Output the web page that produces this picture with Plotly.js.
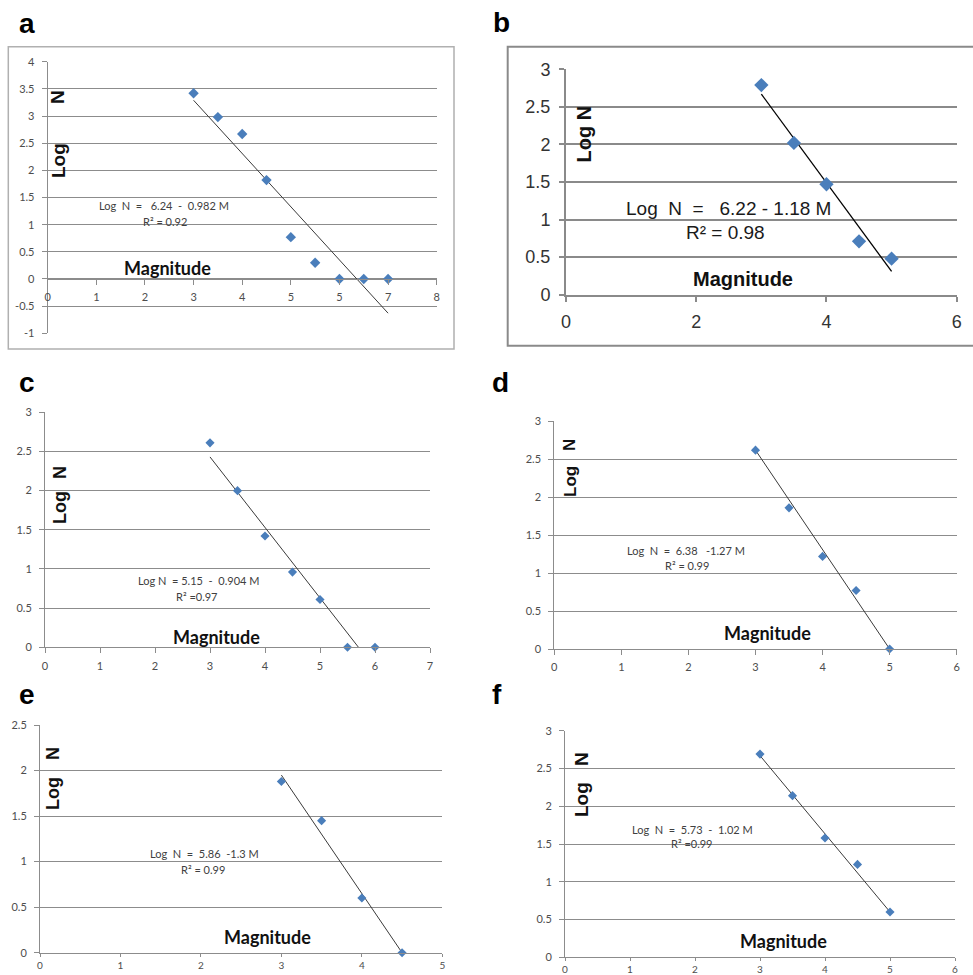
<!DOCTYPE html>
<html><head><meta charset="utf-8">
<script src="https://cdn.plot.ly/plotly-3.0.1.min.js"></script>
<style>html,body{margin:0;padding:0;background:#fff}</style>
</head><body><div id="chart" style="width:973px;height:975px"></div>
<script>
// ---------- data ----------
const magA = [3, 3.5, 4, 4.5, 5, 5.5, 6, 6.5, 7];
const logNA = [3.42, 2.98, 2.67, 1.82, 0.77, 0.30, 0, 0, 0];
const fitXA = [3, 7];
const fitYA = [3.29, -0.63];
const xTickValsA = [0, 1, 2, 3, 4, 5, 6, 7, 8];
const xTickTextA = ['0', '1', '2', '3', '4', '5', '5', '7', '8'];
const yTickValsA = [-1, -0.5, 0, 0.5, 1, 1.5, 2, 2.5, 3, 3.5, 4];
const yTickTextA = ['-1', '-0.5', '0', '0.5', '1', '1.5', '2', '2.5', '3', '3.5', '4'];
const eqA = 'Log  N  =   6.24  -  0.982 M';
const r2A = 'R² = 0.92';

const magB = [3, 3.5, 4, 4.5, 5];
const logNB = [2.79, 2.02, 1.47, 0.71, 0.48];
const fitXB = [3, 5];
const fitYB = [2.67, 0.31];
const xTickValsB = [0, 2, 4, 6];
const xTickTextB = ['0', '2', '4', '6'];
const yTickValsB = [0, 0.5, 1, 1.5, 2, 2.5, 3];
const yTickTextB = ['0', '0.5', '1', '1.5', '2', '2.5', '3'];
const eqB = 'Log  N  =   6.22 - 1.18 M';
const r2B = 'R² = 0.98';

const magC = [3, 3.5, 4, 4.5, 5, 5.5, 6];
const logNC = [2.61, 2.00, 1.42, 0.96, 0.61, 0, 0];
const fitXC = [3, 5.70];
const fitYC = [2.43, 0];
const xTickValsC = [0, 1, 2, 3, 4, 5, 6, 7];
const xTickTextC = ['0', '1', '2', '3', '4', '5', '6', '7'];
const yTickValsC = [0, 0.5, 1, 1.5, 2, 2.5, 3];
const yTickTextC = ['0', '0.5', '1', '1.5', '2', '2.5', '3'];
const eqC = 'Log N  = 5.15  -  0.904 M';
const r2C = 'R² =0.97';

const magD = [3, 3.5, 4, 4.5, 5];
const logND = [2.62, 1.86, 1.22, 0.77, 0];
const fitXD = [3, 5];
const fitYD = [2.62, 0];
const xTickValsD = [0, 1, 2, 3, 4, 5, 6];
const xTickTextD = ['0', '1', '2', '3', '4', '5', '6'];
const yTickValsD = [0, 0.5, 1, 1.5, 2, 2.5, 3];
const yTickTextD = ['0', '0.5', '1', '1.5', '2', '2.5', '3'];
const eqD = 'Log  N  =  6.38   -1.27 M';
const r2D = 'R² = 0.99';

const magE = [3, 3.5, 4, 4.5];
const logNE = [1.88, 1.45, 0.60, 0];
const fitXE = [3, 4.5];
const fitYE = [1.95, 0];
const xTickValsE = [0, 1, 2, 3, 4, 5];
const xTickTextE = ['0', '1', '2', '3', '4', '5'];
const yTickValsE = [0, 0.5, 1, 1.5, 2, 2.5];
const yTickTextE = ['0', '0.5', '1', '1.5', '2', '2.5'];
const eqE = 'Log  N  =  5.86  -1.3 M';
const r2E = 'R² = 0.99';

const magF = [3, 3.5, 4, 4.5, 5];
const logNF = [2.69, 2.14, 1.58, 1.23, 0.60];
const fitXF = [3, 5];
const fitYF = [2.67, 0.60];
const xTickValsF = [0, 1, 2, 3, 4, 5, 6];
const xTickTextF = ['0', '1', '2', '3', '4', '5', '6'];
const yTickValsF = [0, 0.5, 1, 1.5, 2, 2.5, 3];
const yTickTextF = ['0', '0.5', '1', '1.5', '2', '2.5', '3'];
const eqF = 'Log  N  =  5.73  -  1.02 M';
const r2F = 'R² =0.99';

const panelLetters = ['a', 'b', 'c', 'd', 'e', 'f'];
const xTitle = 'Magnitude';
const yTitleWords = ['Log', 'N'];

// ---------- layout helpers ----------
const W = 973, H = 975;
const px = x => x / W;
const py = y => 1 - y / H;
const nb = s => s.replace(/ /g, '\u00A0');

const BLUE = '#4a7ebb';
const GRID = '#8c8c8c';
const calTick = {family: 'Lato, Carlito, sans-serif', size: 11, color: '#4d4d4d'};
const arialTick = {family: 'Liberation Sans, Arial, sans-serif', size: 18, color: '#333333'};

const panels = [
  {mag: magA, logN: logNA, fx: fitXA, fy: fitYA, xv: xTickValsA, xt: xTickTextA, yv: yTickValsA, yt: yTickTextA,
   box: {l: 47.7, r: 436.7, t: 61.7, b: 333.3}, xr: [0, 8], yr: [-1, 4], ms: 8, style: 'xl', xAtZero: true,
   eq: eqA, r2: r2A, eqPos: [164, 205], r2Pos: [165, 222], magPos: [167, 268], logPos: [58, 161], nPos: [58, 97], labPos: [27, 24], ytFont: 19},
  {mag: magB, logN: logNB, fx: fitXB, fy: fitYB, xv: xTickValsB, xt: xTickTextB, yv: yTickValsB, yt: yTickTextB,
   box: {l: 566, r: 956.7, t: 69.3, b: 294.7}, xr: [0, 6], yr: [0, 3], ms: 11, style: 'mac',
   eq: eqB, r2: r2B, eqPos: [728, 209], r2Pos: [725, 233], magPos: [743, 279], logNPos: [583, 134.5], labPos: [501, 22]},
  {mag: magC, logN: logNC, fx: fitXC, fy: fitYC, xv: xTickValsC, xt: xTickTextC, yv: yTickValsC, yt: yTickTextC,
   box: {l: 45, r: 430, t: 412.3, b: 647.3}, xr: [0, 7], yr: [0, 3], ms: 7, style: 'xl',
   eq: eqC, r2: r2C, eqPos: [198, 580], r2Pos: [197, 596], magPos: [216, 637], logPos: [60, 508], nPos: [60, 473], labPos: [27, 382], ytFont: 18},
  {mag: magD, logN: logND, fx: fitXD, fy: fitYD, xv: xTickValsD, xt: xTickTextD, yv: yTickValsD, yt: yTickTextD,
   box: {l: 554.3, r: 956.7, t: 421.3, b: 649}, xr: [0, 6], yr: [0, 3], ms: 7, style: 'xl',
   eq: eqD, r2: r2D, eqPos: [686, 550], r2Pos: [687, 565], magPos: [767, 633], logPos: [570, 482], nPos: [570, 445], labPos: [500, 382], ytFont: 17},
  {mag: magE, logN: logNE, fx: fitXE, fy: fitYE, xv: xTickValsE, xt: xTickTextE, yv: yTickValsE, yt: yTickTextE,
   box: {l: 40, r: 442.3, t: 725, b: 952.7}, xr: [0, 5], yr: [0, 2.5], ms: 7, style: 'xl', tight: true,
   eq: eqE, r2: r2E, eqPos: [204, 853], r2Pos: [203, 869], magPos: [267, 937], logPos: [53, 794], nPos: [53, 754], labPos: [27, 694], ytFont: 18},
  {mag: magF, logN: logNF, fx: fitXF, fy: fitYF, xv: xTickValsF, xt: xTickTextF, yv: yTickValsF, yt: yTickTextF,
   box: {l: 565, r: 955, t: 730.7, b: 957.3}, xr: [0, 6], yr: [0, 3], ms: 7, style: 'xl', tight: true,
   eq: eqF, r2: r2F, eqPos: [692, 829], r2Pos: [692, 843], magPos: [783, 941], logPos: [581, 800], nPos: [581, 759], labPos: [497, 694], ytFont: 19}
];

const data = [];
const layout = {
  width: W, height: H, margin: {l: 0, r: 0, t: 0, b: 0},
  paper_bgcolor: '#ffffff', plot_bgcolor: 'rgba(0,0,0,0)',
  showlegend: false, annotations: [], shapes: []
};

panels.forEach((p, i) => {
  const n = i === 0 ? '' : String(i + 1);
  const xa = 'x' + n, ya = 'y' + n;
  const mac = p.style === 'mac';
  const tf = mac ? arialTick : (p.tight ? Object.assign({}, calTick, {size: 10}) : calTick);
  const axColor = mac ? '#8a8a8a' : GRID;
  const xdom = [px(p.box.l), px(p.box.r)];
  const ydom = [py(p.box.b), py(p.box.t)];
  const xaxis = {
    domain: xdom, range: p.xr, anchor: ya,
    tickmode: 'array', tickvals: p.xv, ticktext: p.xt,
    showgrid: false, zeroline: false, showline: true, linecolor: axColor, linewidth: mac ? 2 : 1,
    ticks: 'outside', ticklen: p.tight ? 3 : 5, tickcolor: axColor, tickwidth: mac ? 2 : 1,
    ticklabelstandoff: mac ? 5 : (p.tight ? 0 : 3),
    tickfont: tf, fixedrange: true
  };
  if (p.xAtZero) {
    const frac = (0 - p.yr[0]) / (p.yr[1] - p.yr[0]);
    xaxis.anchor = 'free';
    xaxis.position = ydom[0] + frac * (ydom[1] - ydom[0]);
  }
  const yaxis = {
    domain: ydom, range: p.yr, anchor: xa,
    tickmode: 'array', tickvals: p.yv, ticktext: p.yt,
    showgrid: true, gridcolor: axColor, gridwidth: mac ? 2 : 1,
    zeroline: false, showline: true, linecolor: axColor, linewidth: mac ? 2 : 1,
    ticks: 'outside', ticklen: 5, tickcolor: axColor, tickwidth: mac ? 2 : 1,
    ticklabelstandoff: 5,
    tickfont: mac ? arialTick : calTick, fixedrange: true
  };
  layout['xaxis' + n] = xaxis;
  layout['yaxis' + n] = yaxis;

  data.push({
    x: p.fx, y: p.fy, xaxis: xa, yaxis: ya, type: 'scatter', mode: 'lines',
    line: {color: mac ? '#000000' : '#3a3a3a', width: mac ? 1.3 : 1}, hoverinfo: 'skip'
  });
  data.push({
    x: p.mag, y: p.logN, xaxis: xa, yaxis: ya, type: 'scatter', mode: 'markers', cliponaxis: false,
    marker: {symbol: 'diamond', size: p.ms, color: BLUE, line: {width: 0}}
  });

  const eqFont = mac ? {family: 'Liberation Sans, Arial, sans-serif', size: 19, color: '#1a1a1a'}
                     : {family: 'Lato, Carlito, sans-serif', size: 11, color: '#404040'};
  const magFont = mac ? {family: 'Liberation Sans, Arial, sans-serif', size: 20, color: '#111111', weight: 'bold'}
                      : {family: 'Lato, Carlito, sans-serif', size: 18, color: '#111111', weight: 'bold'};
  const ann = (t, pos, font, extra) => Object.assign({
    text: t, xref: 'paper', yref: 'paper', x: px(pos[0]), y: py(pos[1]),
    xanchor: 'center', yanchor: 'middle', showarrow: false, font: font
  }, extra || {});
  layout.annotations.push(ann(nb(p.eq), p.eqPos, eqFont));
  layout.annotations.push(ann(nb(p.r2), p.r2Pos, eqFont));
  layout.annotations.push(ann('<b>' + xTitle + '</b>', p.magPos, magFont));
  if (mac) {
    layout.annotations.push(ann('<b>' + yTitleWords.join(' ') + '</b>', p.logNPos,
      {family: 'Liberation Sans, Arial, sans-serif', size: 20, color: '#111111'}, {textangle: -90}));
  } else {
    const yf = {family: 'Liberation Sans, Arial, sans-serif', size: p.ytFont, color: '#111111'};
    layout.annotations.push(ann('<b>' + yTitleWords[0] + '</b>', p.logPos, yf, {textangle: -90}));
    layout.annotations.push(ann('<b>' + yTitleWords[1] + '</b>', p.nPos, yf, {textangle: -90}));
  }
  layout.annotations.push(ann('<b>' + panelLetters[i] + '</b>', p.labPos,
    {family: 'Liberation Sans, Arial, sans-serif', size: 28, color: '#000000'}));
});

// chart frames seen in panels a and b
layout.shapes.push({type: 'rect', xref: 'paper', yref: 'paper', x0: px(8.3), x1: px(454), y0: py(349), y1: py(46.7),
  line: {color: '#b0b0b0', width: 1.5}, layer: 'below'});
layout.shapes.push({type: 'rect', xref: 'paper', yref: 'paper', x0: px(507.7), x1: px(976), y0: py(345.7), y1: py(46.7),
  line: {color: '#8a8a8a', width: 2}, layer: 'below'});

Plotly.newPlot('chart', data, layout, {staticPlot: true, displayModeBar: false});
</script>
</body></html>
